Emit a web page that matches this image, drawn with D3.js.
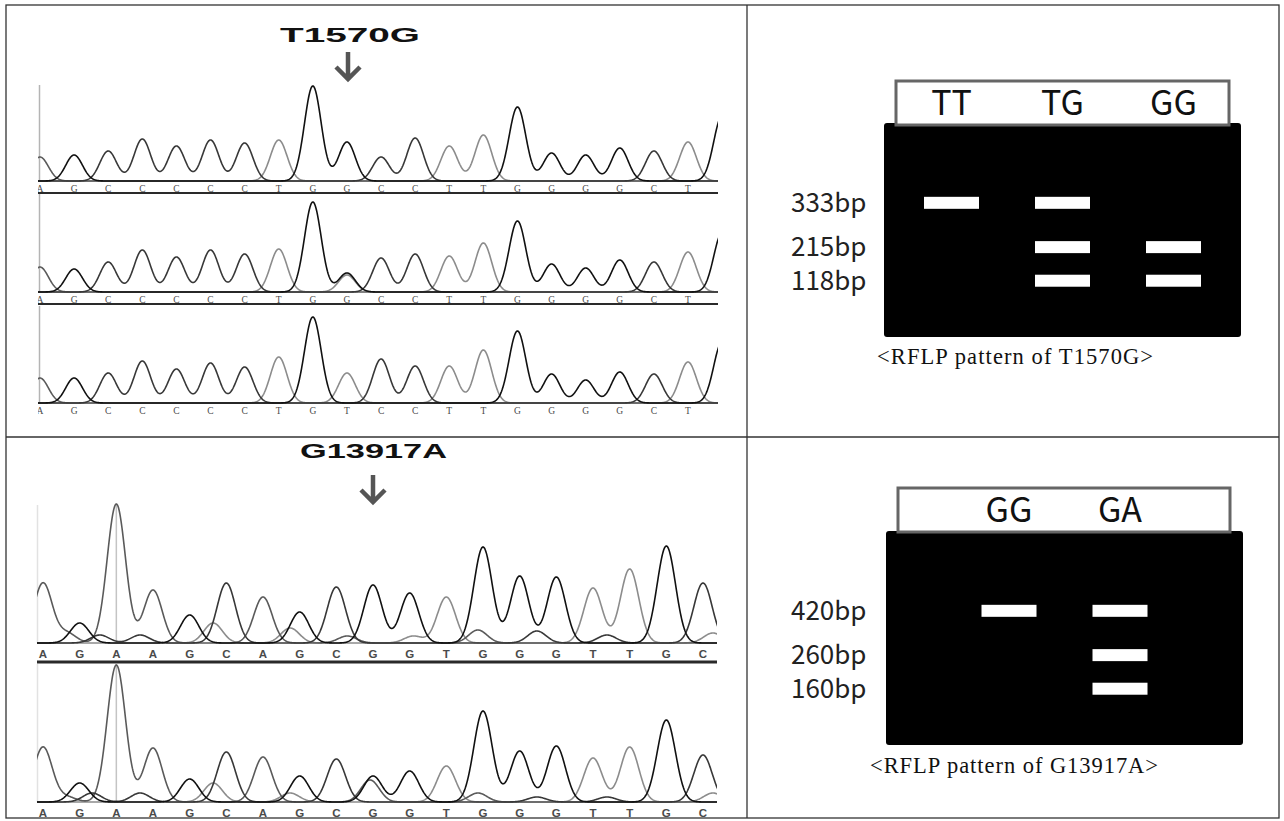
<!DOCTYPE html>
<html>
<head>
<meta charset="utf-8">
<script src="https://cdn.jsdelivr.net/npm/d3@7"></script>
<style>
body { margin: 0; background: #fff; }
svg { display: block; }
</style>
</head>
<body>
<svg id="fig"></svg>
<script>
// chromatogram: T1570G (3 samples)
const topTitle = 'T1570G';
const topBases = [
  ['A','G','C','C','C','C','C','T','G','G','C','C','T','T','G','G','G','G','C','T','G'],
  ['A','G','C','C','C','C','C','T','G','G','C','C','T','T','G','G','G','G','C','T','G'],
  ['A','G','C','C','C','C','C','T','G','T','C','C','T','T','G','G','G','G','C','T','G']
];
const topHeights = [
  [24,26,30,42,35,41,38,41,95,39,24,43,35,46,74,28,26,33,30,39,65],
  [25,23,30,42,35,42,38,43,90,19,34,38,36,49,71,28,24,32,30,40,59],
  [25,25,30,42,34,40,36,46,86,30,44,37,37,53,72,29,23,31,29,41,61]
];
// extra (overlapping) peaks: [track, position, base, height]
const topExtra = [[1, 9, 'T', 17]];

// chromatogram: G13917A (2 samples)
const bottomTitle = 'G13917A';
const bottomBases = [
  ['A','G','A','A','G','C','A','G','C','G','G','T','G','G','G','T','T','G','C'],
  ['A','G','A','A','G','C','A','G','C','G','G','T','G','G','G','T','T','G','C']
];
const bottomHeights = [
  [60,20,139,53,28,60,46,31,56,58,50,46,96,67,66,55,74,97,60],
  [55,19,137,54,23,50,45,26,43,26,31,36,91,51,56,44,55,82,47]
];
// small background peaks: [position, base, height]
const bottomMinor = [
  [[0.65,'A',10],[1.55,'C',8],[2.65,'C',8],[4.64,'T',20],[6.74,'T',15],[8.3,'A',7],
   [10.1,'T',7],[11.86,'A',13],[13.47,'C',12],[15.38,'C',8],[18.27,'T',10]],
  [[0.65,'A',5],[1.34,'C',9],[2.65,'C',9],[4.64,'T',19],[6.74,'T',9],[8.92,'A',22],
   [11.86,'A',9],[13.47,'C',5],[15.38,'C',5],[18.27,'T',9]]
];

// RFLP gels
const gel1Lanes = ['TT','TG','GG'];
const gel1Sizes = ['333bp','215bp','118bp'];
const gel1Migration = [37.3, 58, 73.7];   // % of gel length
const gel1Bands = [['TT','333bp'],['TG','333bp'],['TG','215bp'],['TG','118bp'],['GG','215bp'],['GG','118bp']];
const gel1Caption = '<RFLP pattern of T1570G>';

const gel2Lanes = ['GG','GA'];
const gel2Sizes = ['420bp','260bp','160bp'];
const gel2Migration = [37.3, 58, 73.7];
const gel2Bands = [['GG','420bp'],['GA','420bp'],['GA','260bp'],['GA','160bp']];
const gel2Caption = '<RFLP pattern of G13917A>';

const W = 1284, H = 821;
const svg = d3.select('#fig').attr('width', W).attr('height', H);
const colors = {T: '#8c8c8c', A: '#5a5a5a', C: '#383838', G: '#111'};
const channels = ['T','A','C','G'];

// table frame
svg.append('rect').attr('x', 6).attr('y', 5).attr('width', 1273).attr('height', 813)
  .attr('fill', 'none').attr('stroke', '#333').attr('stroke-width', 1.3);
svg.append('line').attr('x1', 747).attr('x2', 747).attr('y1', 5).attr('y2', 818)
  .attr('stroke', '#333').attr('stroke-width', 1.3);
svg.append('line').attr('x1', 6).attr('x2', 1279).attr('y1', 437).attr('y2', 437)
  .attr('stroke', '#333').attr('stroke-width', 1.3);

function drawTrack(g, cfg) {
  const peaks = cfg.bases.map((b, i) => ({pos: i, base: b, h: cfg.heights[i]}))
    .concat(cfg.extra.map(e => ({pos: e[0], base: e[1], h: e[2]})));
  const xs = d3.range(cfg.clip[0] - 2, cfg.clip[1] + 2, 0.5);
  const line = d3.line().x(d => d[0]).y(d => cfg.y(d[1]));
  const s = cfg.sigma;
  // guide lines
  cfg.guides.forEach(gd => {
    g.append('line').attr('x1', gd.x).attr('x2', gd.x)
      .attr('y1', cfg.top).attr('y2', cfg.y(0))
      .attr('stroke', gd.color).attr('stroke-width', 1.5);
  });
  const tg = g.append('g').attr('clip-path', `url(#${cfg.clipId})`);
  channels.forEach(ch => {
    const pk = peaks.filter(p => p.base === ch);
    const vals = xs.map(px => {
      const u = cfg.x.invert(px);
      return [px, d3.sum(pk, p => p.h * Math.exp(-((u - p.pos) ** 2) / (2 * s * s)))];
    });
    tg.append('path').datum(vals).attr('d', line)
      .attr('fill', 'none').attr('stroke', colors[ch]).attr('stroke-width', 1.6)
      .attr('stroke-linejoin', 'round');
  });
  tg.selectAll('text.base').data(cfg.bases).join('text')
    .attr('class', 'base')
    .attr('x', (d, i) => cfg.x(i))
    .attr('y', cfg.y(0) + cfg.letterDy)
    .attr('text-anchor', 'middle')
    .style('font-family', cfg.letterFont)
    .style('font-weight', cfg.letterWeight)
    .style('font-size', cfg.letterSize + 'px')
    .style('fill', '#4a4a4a')
    .text(d => d);
  if (cfg.sep) {
    g.append('line').attr('x1', cfg.clip[0]).attr('x2', cfg.clip[1])
      .attr('y1', cfg.y(0) + cfg.sepDy).attr('y2', cfg.y(0) + cfg.sepDy)
      .attr('stroke', '#2a2a2a').attr('stroke-width', cfg.sepW);
  }
}

const defs = svg.append('defs');
defs.append('clipPath').attr('id', 'clipTop').append('rect')
  .attr('x', 38).attr('y', 0).attr('width', 680).attr('height', 437);
defs.append('clipPath').attr('id', 'clipBot').append('rect')
  .attr('x', 37).attr('y', 437).attr('width', 680).attr('height', 384);

// top chromatograms
const xTop = d3.scaleLinear().domain([0, 19]).range([40, 688]);
const topBaselines = [181, 292, 403];
const topTops = [85, 194, 306];
topBases.forEach((bases, k) => {
  const base = topBaselines[k];
  drawTrack(svg.append('g'), {
    bases: bases, heights: topHeights[k],
    extra: topExtra.filter(e => e[0] === k).map(e => e.slice(1)),
    x: xTop, y: d3.scaleLinear().domain([0, 100]).range([base, base - 100]),
    sigma: 0.245,
    clip: [38, 718], clipId: 'clipTop', top: topTops[k],
    guides: [{x: 39.5, color: '#b4b4b4'}],
    letterDy: 11, letterSize: 9.5, letterFont: '"Liberation Serif", serif', letterWeight: 'normal',
    sep: k < 2, sepDy: 12, sepW: 2
  });
});

// bottom chromatograms
const xBot = d3.scaleLinear().domain([0, 18]).range([43, 703]);
const botBaselines = [643, 802];
const botTops = [505, 664];
bottomBases.forEach((bases, k) => {
  const base = botBaselines[k];
  drawTrack(svg.append('g'), {
    bases: bases, heights: bottomHeights[k], extra: bottomMinor[k],
    x: xBot, y: d3.scaleLinear().domain([0, 140]).range([base, base - 140]),
    sigma: 0.25,
    clip: [37, 717], clipId: 'clipBot', top: botTops[k],
    guides: [{x: 37.5, color: '#e2e2e2'}, {x: xBot(2), color: '#c4c4c4'}],
    letterDy: 15, letterSize: 11.5, letterFont: '"Liberation Sans", Arial, sans-serif', letterWeight: 'bold',
    sep: k < 1, sepDy: 19, sepW: 3
  });
});

// titles and arrows
function title(txt, x, y, len) {
  svg.append('text').attr('x', x).attr('y', y)
    .attr('textLength', len).attr('lengthAdjust', 'spacingAndGlyphs')
    .style('font-family', '"Liberation Sans", Arial, sans-serif')
    .style('font-weight', 'bold').style('font-size', '20px')
    .attr('fill', '#111').text(txt);
}
function arrow(x, y0, y1, hw, hh) {
  svg.append('path')
    .attr('d', `M${x},${y0}V${y1 - 1}M${x - hw},${y1 - hh}L${x},${y1}L${x + hw},${y1 - hh}`)
    .attr('fill', 'none').attr('stroke', '#555').attr('stroke-width', 4.5);
}
title(topTitle, 280, 42, 140);
arrow(348, 52, 79, 12, 12);
title(bottomTitle, 300, 458, 147);
arrow(373, 475, 502, 12, 12);

// gels
function drawGel(cfg) {
  const g = svg.append('g');
  const gw = cfg.x1 - cfg.x0, gh = cfg.y1 - cfg.y0;
  const step = 111;
  const cx = (cfg.x0 + cfg.x1) / 2;
  const lane = d3.scalePoint().domain(cfg.lanes)
    .range([cx - step * (cfg.lanes.length - 1) / 2, cx + step * (cfg.lanes.length - 1) / 2]);
  const mig = d3.scaleLinear().domain([0, 100]).range([cfg.y0, cfg.y1]);
  const row = d3.scaleOrdinal().domain(cfg.sizes).range(cfg.migration);

  g.append('rect').attr('x', cfg.x0).attr('y', cfg.y0).attr('width', gw).attr('height', gh)
    .attr('rx', 3).attr('fill', '#000');
  g.append('rect').attr('x', cfg.bx0).attr('y', cfg.by0)
    .attr('width', cfg.bx1 - cfg.bx0).attr('height', cfg.by1 - cfg.by0)
    .attr('fill', '#fff').attr('stroke', '#666').attr('stroke-width', 3);
  g.selectAll('text.lane').data(cfg.lanes).join('text')
    .attr('class', 'lane')
    .attr('x', d => lane(d)).attr('y', cfg.by1 - 10)
    .attr('text-anchor', 'middle')
    .style('font-family', '"Noto Sans CJK KR", "Noto Sans", sans-serif')
    .style('font-size', '34px').attr('fill', '#111')
    .text(d => d);
  g.selectAll('rect.band').data(cfg.bands).join('rect')
    .attr('class', 'band')
    .attr('x', d => lane(d[0]) - 27.5).attr('width', 55)
    .attr('y', d => mig(row(d[1])) - 6).attr('height', 12)
    .attr('fill', '#fff');
  g.selectAll('text.size').data(cfg.sizes).join('text')
    .attr('class', 'size')
    .attr('x', 791).attr('y', d => mig(row(d)) + 9)
    .style('font-family', '"Noto Sans CJK KR", "Noto Sans", sans-serif')
    .style('font-size', '26px').attr('fill', '#222')
    .text(d => d);
  g.append('text').attr('x', cfg.capX).attr('y', cfg.capY)
    .attr('textLength', cfg.capLen).attr('lengthAdjust', 'spacing')
    .style('font-family', '"Liberation Serif", "Times New Roman", serif')
    .style('font-size', '22.5px').attr('fill', '#111')
    .text(cfg.caption);
}

drawGel({
  lanes: gel1Lanes, sizes: gel1Sizes, migration: gel1Migration, bands: gel1Bands, caption: gel1Caption,
  x0: 884, x1: 1241, y0: 123, y1: 337,
  bx0: 896, bx1: 1229, by0: 81, by1: 125,
  capX: 877, capY: 364, capLen: 276
});
drawGel({
  lanes: gel2Lanes, sizes: gel2Sizes, migration: gel2Migration, bands: gel2Bands, caption: gel2Caption,
  x0: 886, x1: 1243, y0: 531, y1: 745,
  bx0: 898, bx1: 1230, by0: 488, by1: 532,
  capX: 870, capY: 773, capLen: 288
});
</script>
</body>
</html>
